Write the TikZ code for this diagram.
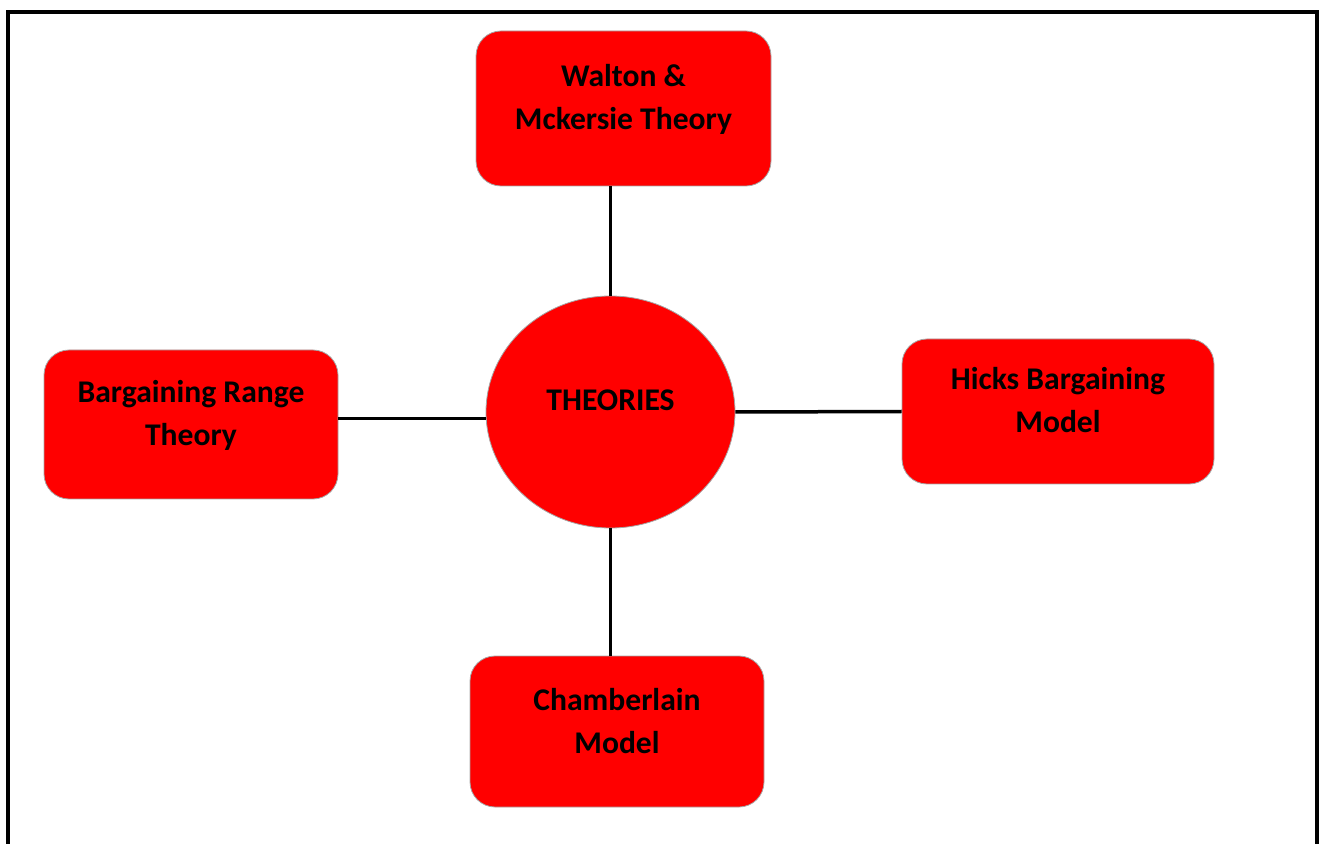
\documentclass[tikz,border=0pt]{standalone}
\usepackage{fontspec}
\setmainfont{Carlito}
\usetikzlibrary{shapes.geometric}

\begin{document}
\begin{tikzpicture}[x=0.5pt, y=-0.5pt,
    box/.style={draw=gray!70, fill=red, rounded corners=12.5pt, align=center,
                font=\fontsize{15.8}{21.5}\selectfont\bfseries,
                text height=32.5pt, text depth=11pt, inner sep=0pt},
    hub/.style={ellipse, draw=gray!70, fill=red, inner sep=0pt,
                font=\fontsize{15.8}{21.5}\selectfont\bfseries,
                text height=11pt, text depth=12pt},
    link/.style={line width=1.75pt}
  ]
  \useasboundingbox (0,0) rectangle (1323,844);
  \draw[line width=2pt] (8,844) -- (8,12) -- (1317,12) -- (1317,844);

  \node[hub, minimum width=124.5pt, minimum height=116pt] (theory) at (610.5,412) {THEORIES};
  \node[box, minimum width=147.5pt, minimum height=77.5pt] (walton) at (623.5,108.5) {Walton \&\\Mckersie Theory};
  \node[box, minimum width=147pt, minimum height=74.5pt] (bargain) at (191,424.5) {Bargaining Range\\Theory};
  \node[box, minimum width=156pt, minimum height=72.5pt] (hicks) at (1058,411.5) {Hicks Bargaining\\Model};
  \node[box, minimum width=147pt, minimum height=75.5pt] (chamber) at (617,731.5) {Chamberlain\\Model};

  \draw[link] (theory.north) -- (theory.north |- walton.south);
  \draw[link] (theory.183) -- (theory.183 -| bargain.east);
  \draw[link] (theory.east) -- (hicks.west);
  \draw[link] (theory.south) -- (theory.south |- chamber.north);
\end{tikzpicture}
\end{document}
